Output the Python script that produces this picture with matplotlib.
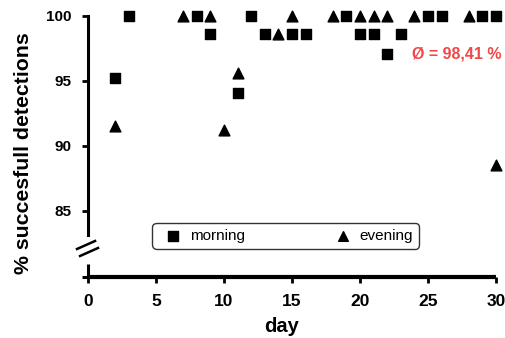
import matplotlib.pyplot as plt

plt.rcParams['font.family'] = ['Liberation Sans', 'DejaVu Sans']

morning_days = [2, 3, 8, 9, 11, 12, 13, 15, 16, 19, 20, 21, 22, 23, 25, 26, 29, 30]
morning_vals = [95.2, 100, 100, 98.6, 94.1, 100, 98.6, 98.6, 98.6, 100,
                98.6, 98.6, 97.1, 98.6, 100, 100, 100, 100]
evening_days = [2, 7, 9, 10, 11, 14, 15, 18, 20, 21, 22, 24, 28, 30]
evening_vals = [91.5, 100, 100, 91.2, 95.6, 98.6, 100, 100, 100, 100, 100, 100, 100, 88.5]

x_ticks = [0, 5, 10, 15, 20, 25, 30]
y_ticks = [85, 90, 95, 100]
mean_label = "Ø = 98,41 %"

fig = plt.figure(figsize=(5.06, 3.38), dpi=100)
ax = fig.add_axes([0.174, 0.1805, 0.806, 0.7915])

ax.scatter(morning_days, morning_vals, marker='s', s=55, color='black',
           clip_on=False, zorder=3, label='morning')
ax.scatter(evening_days, evening_vals, marker='^', s=60, color='black',
           clip_on=False, zorder=3, label='evening')

ax.set_xlim(0, 30)
ax.set_ylim(79.9, 100.5)
ax.set_xticks(x_ticks)
ax.set_yticks(y_ticks)

for s in ['top', 'right']:
    ax.spines[s].set_visible(False)
ax.spines['left'].set_bounds(83.15, 100)
ax.spines['left'].set_linewidth(2.2)
ax.spines['bottom'].set_linewidth(3)
ax.spines['bottom'].set_capstyle('butt')

# lower piece of the broken y axis, its tick and the break marks
tr = ax.transAxes
ax.plot([0, 0], [0.0, 0.05], color='black', lw=2.2, transform=tr,
        clip_on=False, solid_capstyle='butt', zorder=4)
ax.plot([-0.015, 0], [0.0, 0.0], color='black', lw=2.2, transform=tr,
        clip_on=False, solid_capstyle='butt', zorder=4)
ax.plot([-0.027, 0.0172], [0.1047, 0.1346], color='black', lw=1.8,
        transform=tr, clip_on=False)
ax.plot([-0.0196, 0.0245], [0.0785, 0.1084], color='black', lw=1.8,
        transform=tr, clip_on=False)

ax.tick_params(axis='both', direction='out', width=2, length=4)
for lab in ax.get_xticklabels():
    lab.set_fontweight('bold')
    lab.set_fontsize(12.5)
for lab in ax.get_yticklabels():
    lab.set_fontweight('bold')
    lab.set_fontsize(11)
ax.tick_params(axis='x', pad=8)
ax.tick_params(axis='y', pad=8)

ax.set_xlabel('day', fontsize=14.5, fontweight='bold')
ax.set_ylabel('% succesfull detections', fontsize=15.3, fontweight='bold')
ax.xaxis.set_label_coords(0.475, -0.15)
ax.yaxis.set_label_coords(-0.134, 0.4635)

ax.text(30.45, 97.1, mean_label, color='#f04848', fontsize=11.5, fontweight='bold',
        ha='right', va='center')

leg = ax.legend(loc='upper left', bbox_to_anchor=(0.138, 0.232), ncol=2,
                frameon=True, fancybox=True, edgecolor='black', fontsize=11,
                columnspacing=5.4, handletextpad=0.1, borderpad=0.4,
                handlelength=2.0, markerscale=0.9)
leg.get_frame().set_linewidth(1.0)
leg.get_frame().set_boxstyle('round', pad=0.0, rounding_size=0.3)

fig.savefig('out.png', dpi=100)
